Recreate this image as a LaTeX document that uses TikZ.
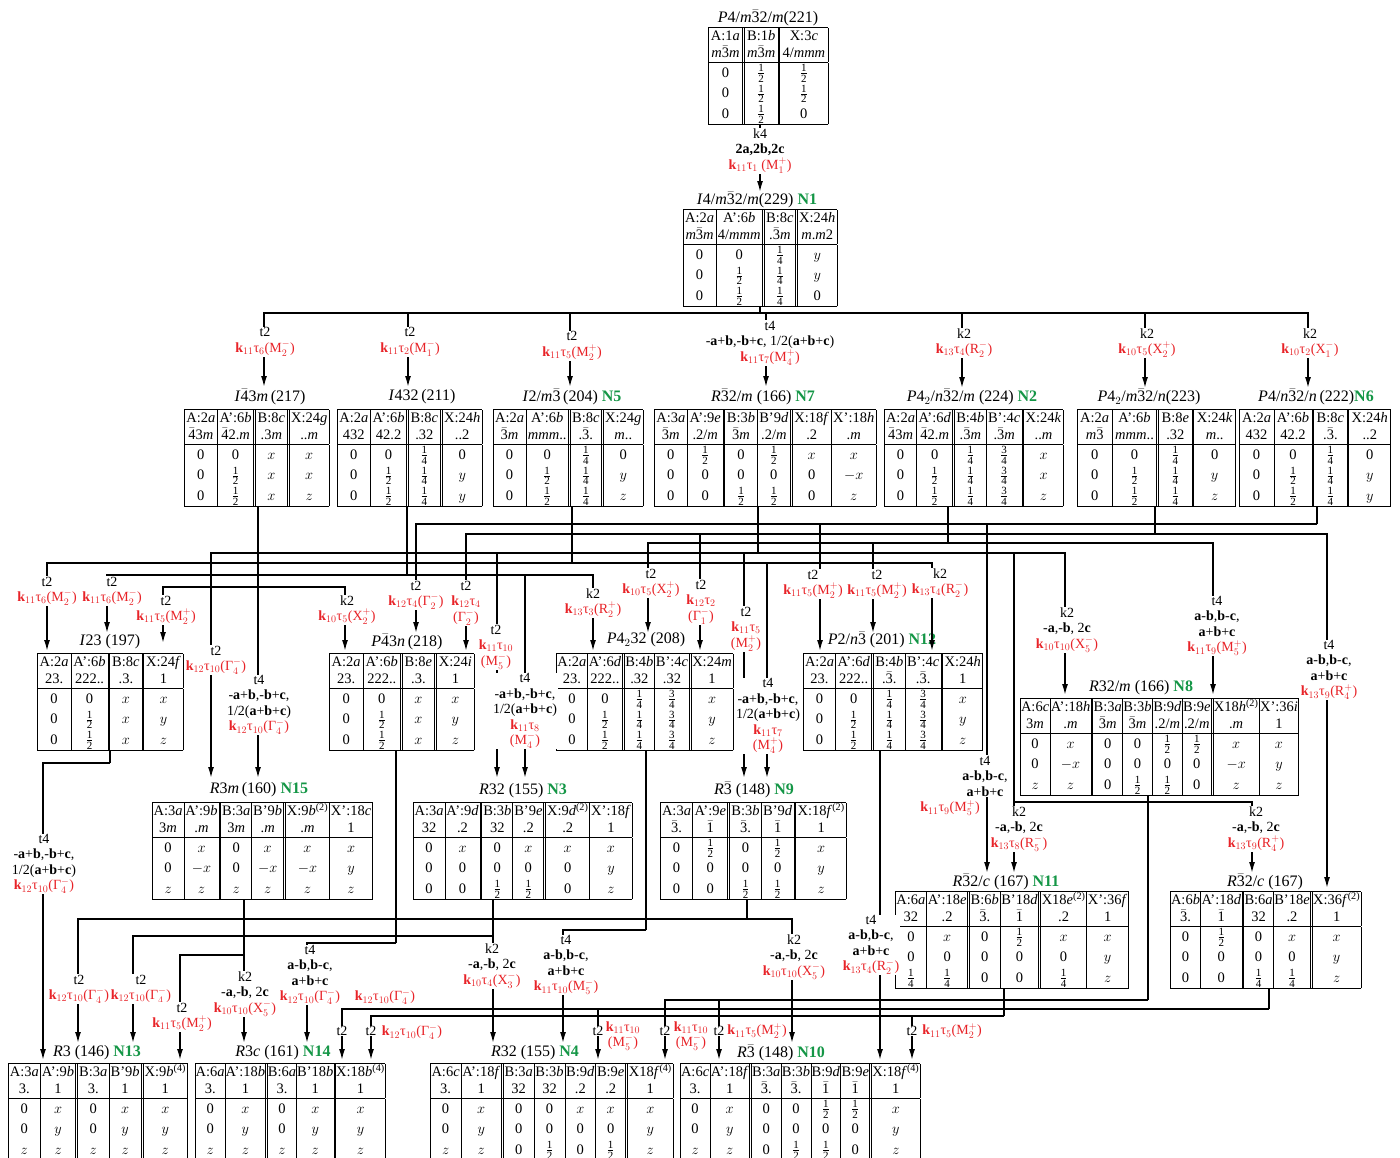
\documentclass[tikz,border=0pt]{standalone}
\usepackage{amsmath}
\usepackage{fontspec}
\setmainfont{Liberation Serif}
\usepackage{xcolor}
\usetikzlibrary{arrows.meta}

\definecolor{lred}{RGB}{232,35,40}
\definecolor{ngreen}{RGB}{20,150,70}

\setlength\arrayrulewidth{0.8pt}
\setlength\doublerulesep{1.8pt}
\setlength\tabcolsep{2pt}
\renewcommand\arraystretch{0.8}

\newcommand\tabfont{\fontsize{14.5}{15}\selectfont}
\newcommand\ttlfont{\fontsize{16}{18}\selectfont}
\newcommand\lbfont{\fontsize{14}{15.5}\selectfont}
\newcommand\brr[1]{$\bar{\text{#1}}$}
\newcommand\itm{\textit{m}}
\newcommand\wi[1]{\textit{#1}}
\newcommand\fd[1]{\text{\fontsize{11}{11}\selectfont #1}}
\newcommand\fr[2]{$\genfrac{}{}{0.5pt}{1}{\fd{#1}}{\fd{#2}}$}
\newcommand\hf{\fr{1}{2}}
\newcommand\qf{\fr{1}{4}}
\newcommand\tqf{\fr{3}{4}}
\newcommand\hs{\rule[-4.5pt]{0pt}{17pt}}
\newcommand\ds{\rule[-6pt]{0pt}{20.5pt}}
\newcommand\cs[1]{\setlength\tabcolsep{#1pt}}
\newcommand\kt[2]{\textbf{k}$_{#1}$τ$_{#2}$}
\newcommand\ir[3]{(#1$_{#2}^{#3}$)}
\newcommand\grn[1]{\textcolor{ngreen}{\textbf{#1}}}
\newcommand\rd[1]{\textcolor{lred}{#1}}
\newcommand\bv[1]{\textbf{#1}}
\newcommand\vA{-\bv{a}+\bv{b},-\bv{b}+\bv{c},}
\newcommand\vB{1/2(\bv{a}+\bv{b}+\bv{c})}
\newcommand\vC{\bv{a}-\bv{b},\bv{b}-\bv{c},}
\newcommand\vD{\bv{a}+\bv{b}+\bv{c}}
\newcommand\vE{-\bv{a},-\bv{b}, 2\bv{c}}

\begin{document}
\begin{tikzpicture}[x=1pt,y=-1pt,
  wt/.style={anchor=north west,inner sep=0pt,font=\tabfont},
  ttl/.style={inner sep=0pt,font=\ttlfont},
  lb/.style={align=center,fill=white,inner sep=0.6pt,font=\lbfont},
  wire/.style={line width=1.5pt},
  arr/.style={wire,-{Latex[length=11pt,width=6pt]}}
]
\useasboundingbox (0,0) rectangle (1400,1157);
\clip (0,0) rectangle (1400,1157);

% ---- level 0 and 1
\node[ttl] (H221) at (768,18) {\textit{P}4/\itm\brr{3}2/\itm(221)};
\node[wt] (T221) at (708,27) {\cs{2.7}\begin{tabular}{|c||c||c|}\hline
\hs A:1\wi{a} & B:1\wi{b} & X:3\wi{c}\\
\hs \itm\brr{3}\itm & \itm\brr{3}\itm & 4/\itm\itm\itm\\\hline
\ds 0 & \hf & \hf\\
\ds 0 & \hf & \hf\\
\ds 0 & \hf & 0\\\hline
\end{tabular}};

\node[ttl] (H229) at (757,200) {\textit{I}4/\itm\brr{3}2/\itm(229) \grn{N1}};
\node[wt] (T229) at (683,209) {\cs{1.9}\begin{tabular}{|c|c||c||c|}\hline
\hs A:2\wi{a} & A':6\wi{b} & B:8\wi{c} & X:24\wi{h}\\
\hs \itm\brr{3}\itm & 4/\itm\itm\itm & .\brr{3}\itm & \itm.\itm2\\\hline
\ds 0 & 0 & \qf & $y$\\
\ds 0 & \hf & \qf & $y$\\
\ds 0 & \hf & \qf & 0\\\hline
\end{tabular}};

% ---- level 2
\node[ttl] (H217) at (270,397) {\textit{I}\brr{4}3\itm\,(217)};
\node[wt] (T217) at (184,409) {\cs{2.1}\begin{tabular}{|c|c||c||c|}\hline
\hs A:2\wi{a} & A':6\wi{b} & B:8\wi{c} & X:24\wi{g}\\
\hs \brr{4}3\itm & \brr{4}2.\itm & .3\itm & ..\itm\\\hline
\ds 0 & 0 & $x$ & $x$\\
\ds 0 & \hf & $x$ & $x$\\
\ds 0 & \hf & $x$ & $z$\\\hline
\end{tabular}};

\node[ttl] (H211) at (422,397) {\textit{I}432\,(211)};
\node[wt] (T211) at (337,409) {\cs{2.1}\begin{tabular}{|c|c||c||c|}\hline
\hs A:2\wi{a} & A':6\wi{b} & B:8\wi{c} & X:24\wi{h}\\
\hs 432 & 42.2 & .32 & ..2\\\hline
\ds 0 & 0 & \qf & 0\\
\ds 0 & \hf & \qf & $y$\\
\ds 0 & \hf & \qf & $y$\\\hline
\end{tabular}};

\node[ttl] (H204) at (572,397) {\textit{I}2/\itm\brr{3}\,(204) \grn{N5}};
\node[wt] (T204) at (493,409) {\cs{1.9}\begin{tabular}{|c|c||c||c|}\hline
\hs A:2\wi{a} & A':6\wi{b} & B:8\wi{c} & X:24\wi{g}\\
\hs \brr{3}\itm & \itm\itm\itm.. & .\brr{3}. & \itm..\\\hline
\ds 0 & 0 & \qf & 0\\
\ds 0 & \hf & \qf & $y$\\
\ds 0 & \hf & \qf & $z$\\\hline
\end{tabular}};

\node[ttl] (H166) at (763,397) {\textit{R}\brr{3}2/\itm{} (166) \grn{N7}};
\node[wt] (T166) at (654,409) {\cs{2.1}\begin{tabular}{|c|c||c|c||c|c|}\hline
\hs A:3\wi{a} & A':9\wi{e} & B:3\wi{b} & B'9\wi{d} & X:18\wi{f} & X':18\wi{h}\\
\hs \brr{3}\itm & .2/\itm & \brr{3}\itm & .2/\itm & .2 & .\itm\\\hline
\ds 0 & \hf & 0 & \hf & $x$ & $x$\\
\ds 0 & 0 & 0 & 0 & 0 & $-x$\\
\ds 0 & 0 & \hf & \hf & 0 & $z$\\\hline
\end{tabular}};

\node[ttl] (H224) at (972,397) {\textit{P}4$_2$/\textit{n}\brr{3}2/\itm{} (224) \grn{N2}};
\node[wt] (T224) at (884,409) {\cs{1.8}\begin{tabular}{|c|c||c|c||c|}\hline
\hs A:2\wi{a} & A':6\wi{d} & B:4\wi{b} & B':4\wi{c} & X:24\wi{k}\\
\hs \brr{4}3\itm & \brr{4}2.\itm & .\brr{3}\itm & .\brr{3}\itm & ..\itm\\\hline
\ds 0 & 0 & \qf & \tqf & $x$\\
\ds 0 & \hf & \qf & \tqf & $x$\\
\ds 0 & \hf & \qf & \tqf & $z$\\\hline
\end{tabular}};

\node[ttl] (H223) at (1149,397) {\textit{P}4$_2$/\itm\brr{3}2/\textit{n}(223)};
\node[wt] (T223) at (1077,409) {\cs{3}\begin{tabular}{|c|c||c||c|}\hline
\hs A:2\wi{a} & A':6\wi{b} & B:8\wi{e} & X:24\wi{k}\\
\hs \itm\brr{3} & \itm\itm\itm.. & .32 & \itm..\\\hline
\ds 0 & 0 & \qf & 0\\
\ds 0 & \hf & \qf & $y$\\
\ds 0 & \hf & \qf & $z$\\\hline
\end{tabular}};

\node[ttl] (H222) at (1316,397) {\textit{P}4/\textit{n}\brr{3}2/\textit{n}\,(222)\grn{N6}};
\node[wt] (T222) at (1239,409) {\cs{2.9}\begin{tabular}{|c|c||c||c|}\hline
\hs A:2\wi{a} & A':6\wi{b} & B:8\wi{c} & X:24\wi{h}\\
\hs 432 & 42.2 & .\brr{3}. & ..2\\\hline
\ds 0 & 0 & \qf & 0\\
\ds 0 & \hf & \qf & $y$\\
\ds 0 & \hf & \qf & $y$\\\hline
\end{tabular}};

% ---- level 3
\node[ttl] (H197) at (110,642) {\textit{I}23 (197)};
\node[wt] (T197) at (37,653) {\cs{2.4}\begin{tabular}{|c|c||c||c|}\hline
\hs A:2\wi{a} & A':6\wi{b} & B:8\wi{c} & X:24\wi{f}\\
\hs 23. & 222.. & .3. & 1\\\hline
\ds 0 & 0 & $x$ & $x$\\
\ds 0 & \hf & $x$ & $y$\\
\ds 0 & \hf & $x$ & $z$\\\hline
\end{tabular}};

\node[ttl] (H218) at (407,642) {\textit{P}\brr{4}3\textit{n}\,(218)};
\node[wt] (T218) at (329,653) {\cs{2.5}\begin{tabular}{|c|c||c||c|}\hline
\hs A:2\wi{a} & A':6\wi{b} & B:8\wi{e} & X:24\wi{i}\\
\hs 23. & 222.. & .3. & 1\\\hline
\ds 0 & 0 & $x$ & $x$\\
\ds 0 & \hf & $x$ & $y$\\
\ds 0 & \hf & $x$ & $z$\\\hline
\end{tabular}};

\node[ttl] (H208) at (646,640) {\textit{P}4$_2$32 (208)};
\node[wt] (T208) at (556,653) {\cs{1.2}\begin{tabular}{|c|c||c|c||c|}\hline
\hs A:2\wi{a} & A':6\wi{d} & B:4\wi{b} & B':4\wi{c} & X:24\wi{m}\\
\hs 23. & 222.. & .32 & .32 & 1\\\hline
\ds 0 & 0 & \qf & \tqf & $x$\\
\ds 0 & \hf & \qf & \tqf & $y$\\
\ds 0 & \hf & \qf & \tqf & $z$\\\hline
\end{tabular}};

\node[ttl] (H201) at (882,640) {\textit{P}2/\textit{n}\brr{3} (201) \grn{N12}};
\node[wt] (T201) at (803,653) {\cs{1.8}\begin{tabular}{|c|c||c|c||c|}\hline
\hs A:2\wi{a} & A':6\wi{d} & B:4\wi{b} & B':4\wi{c} & X:24\wi{h}\\
\hs 23. & 222.. & .\brr{3}. & .\brr{3}. & 1\\\hline
\ds 0 & 0 & \qf & \tqf & $x$\\
\ds 0 & \hf & \qf & \tqf & $y$\\
\ds 0 & \hf & \qf & \tqf & $z$\\\hline
\end{tabular}};

\node[ttl] (H166b) at (1141,688) {\textit{R}32/\itm{} (166) \grn{N8}};
\node[wt] (T166b) at (1020,698) {\cs{0.8}\begin{tabular}{|c|c||c|c|c|c||c|c|}\hline
\hs A:6\wi{c} & A':18\wi{h} & B:3\wi{a} & B:3\wi{b} & B:9\wi{d} & B:9\wi{e} & X18\wi{h}\textsuperscript{(2)} & X':36\wi{i}\\
\hs 3\itm & .\itm & \brr{3}\itm & \brr{3}\itm & .2/\itm & .2/\itm & .\itm & 1\\\hline
\ds 0 & $x$ & 0 & 0 & \hf & \hf & $x$ & $x$\\
\ds 0 & $-x$ & 0 & 0 & 0 & 0 & $-x$ & $y$\\
\ds $z$ & $z$ & 0 & \hf & \hf & 0 & $z$ & $z$\\\hline
\end{tabular}};

% ---- level 4
\node[ttl] (H160) at (259,790) {\textit{R}3\itm\,(160) \grn{N15}};
\node[wt] (T160) at (152,802) {\cs{1.4}\begin{tabular}{|c|c||c|c||c|c|}\hline
\hs A:3\wi{a} & A':9\wi{b} & B:3\wi{a} & B'9\wi{b} & X:9\wi{b}\textsuperscript{(2)} & X':18\wi{c}\\
\hs 3\itm & .\itm & 3\itm & .\itm & .\itm & 1\\\hline
\ds 0 & $x$ & 0 & $x$ & $x$ & $x$\\
\ds 0 & $-x$ & 0 & $-x$ & $-x$ & $y$\\
\ds $z$ & $z$ & $z$ & $z$ & $z$ & $z$\\\hline
\end{tabular}};

\node[ttl] (H155) at (523,791) {\textit{R}32 (155) \grn{N3}};
\node[wt] (T155) at (413,802) {\cs{1.4}\begin{tabular}{|c|c||c|c||c|c|}\hline
\hs A:3\wi{a} & A':9\wi{d} & B:3\wi{b} & B'9\wi{e} & X:9\wi{d}\textsuperscript{(2)} & X':18\wi{f}\\
\hs 32 & .2 & 32 & .2 & .2 & 1\\\hline
\ds 0 & $x$ & 0 & $x$ & $x$ & $x$\\
\ds 0 & 0 & 0 & 0 & 0 & $y$\\
\ds 0 & 0 & \hf & \hf & 0 & $z$\\\hline
\end{tabular}};

\node[ttl] (H148) at (754,790) {\textit{R}\brr{3} (148) \grn{N9}};
\node[wt] (T148) at (660,802) {\cs{1.8}\begin{tabular}{|c|c||c|c||c|}\hline
\hs A:3\wi{a} & A':9\wi{e} & B:3\wi{b} & B'9\wi{d} & X:18\wi{f}\textsuperscript{(2)}\\
\hs \brr{3}. & \brr{1} & \brr{3}. & \brr{1} & 1\\\hline
\ds 0 & \hf & 0 & \hf & $x$\\
\ds 0 & 0 & 0 & 0 & $y$\\
\ds 0 & 0 & \hf & \hf & $z$\\\hline
\end{tabular}};

% ---- level 5
\node[ttl] (H167) at (1006,882) {\textit{R}\brr{3}2/\textit{c} (167) \grn{N11}};
\node[wt] (T167) at (895,891) {\cs{1.2}\begin{tabular}{|c|c||c|c||c|c|}\hline
\hs A:6\wi{a} & A':18\wi{e} & B:6\wi{b} & B'18\wi{d} & X18\wi{e}\textsuperscript{(2)} & X':36\wi{f}\\
\hs 32 & .2 & \brr{3}. & \brr{1} & .2 & 1\\\hline
\ds 0 & $x$ & 0 & \hf & $x$ & $x$\\
\ds 0 & 0 & 0 & 0 & 0 & $y$\\
\ds \qf & \qf & 0 & 0 & \qf & $z$\\\hline
\end{tabular}};

\node[ttl] (H167b) at (1265,882) {\textit{R}\brr{3}2/\textit{c} (167)};
\node[wt] (T167b) at (1170,891) {\cs{0.8}\begin{tabular}{|c|c||c|c||c|}\hline
\hs A:6\wi{b} & A':18\wi{d} & B:6\wi{a} & B'18\wi{e} & X:36\wi{f}\textsuperscript{(2)}\\
\hs \brr{3}. & \brr{1} & 32 & .2 & 1\\\hline
\ds 0 & \hf & 0 & $x$ & $x$\\
\ds 0 & 0 & 0 & 0 & $y$\\
\ds 0 & 0 & \qf & \qf & $z$\\\hline
\end{tabular}};

% ---- level 6
\node[ttl] (H146) at (97,1053) {\textit{R}3 (146) \grn{N13}};
\node[wt] (T146) at (8,1063) {\cs{1.6}\begin{tabular}{|c|c||c|c||c|}\hline
\hs A:3\wi{a} & A':9\wi{b} & B:3\wi{a} & B'9\wi{b} & X:9\wi{b}\textsuperscript{(4)}\\
\hs 3. & 1 & 3. & 1 & 1\\\hline
\ds 0 & $x$ & 0 & $x$ & $x$\\
\ds 0 & $y$ & 0 & $y$ & $y$\\
\ds $z$ & $z$ & $z$ & $z$ & $z$\\\hline
\end{tabular}};

\node[ttl] (H161) at (283,1053) {\textit{R}3\textit{c} (161) \grn{N14}};
\node[wt] (T161) at (195,1063) {\cs{0.5}\begin{tabular}{|c|c||c|c||c|}\hline
\hs A:6\wi{a} & A':18\wi{b} & B:6\wi{a} & B'18\wi{b} & X:18\wi{b}\textsuperscript{(4)}\\
\hs 3. & 1 & 3. & 1 & 1\\\hline
\ds 0 & $x$ & 0 & $x$ & $x$\\
\ds 0 & $y$ & 0 & $y$ & $y$\\
\ds $z$ & $z$ & $z$ & $z$ & $z$\\\hline
\end{tabular}};

\node[ttl] (H155b) at (535,1053) {\textit{R}32 (155) \grn{N4}};
\node[wt] (T155b) at (430,1063) {\cs{1.3}\begin{tabular}{|c|c||c|c|c|c||c|}\hline
\hs A:6\wi{c} & A':18\wi{f} & B:3\wi{a} & B:3\wi{b} & B:9\wi{d} & B:9\wi{e} & X18\wi{f}\textsuperscript{(4)}\\
\hs 3. & 1 & 32 & 32 & .2 & .2 & 1\\\hline
\ds 0 & $x$ & 0 & 0 & $x$ & $x$ & $x$\\
\ds 0 & $y$ & 0 & 0 & 0 & 0 & $y$\\
\ds $z$ & $z$ & 0 & \hf & 0 & \hf & $z$\\\hline
\end{tabular}};

\node[ttl] (H148b) at (781,1053) {\textit{R}\brr{3} (148) \grn{N10}};
\node[wt] (T148b) at (680,1063) {\cs{0.8}\begin{tabular}{|c|c||c|c|c|c||c|}\hline
\hs A:6\wi{c} & A':18\wi{f} & B:3\wi{a} & B:3\wi{b} & B:9\wi{d} & B:9\wi{e} & X:18\wi{f}\textsuperscript{(4)}\\
\hs 3. & 1 & \brr{3}. & \brr{3}. & \brr{1} & \brr{1} & 1\\\hline
\ds 0 & $x$ & 0 & 0 & \hf & \hf & $x$\\
\ds 0 & $y$ & 0 & 0 & 0 & 0 & $y$\\
\ds $z$ & $z$ & 0 & \hf & \hf & 0 & $z$\\\hline
\end{tabular}};

% ---- junctions and arrow tips
\foreach \n/\x/\y in {j229/760/313, j217/258/587, j211/407/575, j204/572/563,
  j166/758/553, j224/948/543, j223/1155/534, j222/1317/524, j802/1014/802,
  j197/110/763, j218/396/943, j208/646/930, j160/244/955, j155/493/936,
  j148/747/919, j166b/1148/1000, j167/1004/1016, j167b/1269/1009}
  \coordinate (\n) at (\x,\y);
\foreach \n/\x/\y in {a229/760/192, a217/264/387, a211/408/387, a204/570/387,
  a166/766/387, a224/962/388, a223/1145/388, a222/1308/388,
  a197a/47/651, a197b/107/633, a197c/163/643,
  a218a/345/651, a218b/416/633, a218c/466/651,
  a208a/593/651, a208b/648/633, a208c/700/651,
  a201a/820/651, a201b/873/633, a201c/932/651,
  a166ba/1065/695, a166bb/1213/695,
  a167ba/1252/873, a167bb/1327/888, a167a/987/873, a167b/1014/873,
  a160a/211/778, a160b/258/778, a155a/497/778, a155b/525/778,
  a148a/744/778, a148b/767/778,
  a146a/43/1060, a146b/78/1043, a146c/133/1043, a146d/180/1060,
  a161a/244/1043, a161b/307/1043, a161c/342/1060, a161d/371/1060,
  a155ba/493/1043, a155bb/563/1043, a155bc/598/1060, a155bd/665/1060,
  a148ba/719/1060, a148bb/792/1043, a148bc/880/1060, a148bd/912/1060}
  \coordinate (\n) at (\x,\y);

% ---- connectors
\draw[arr] (T221.south -| a229) -- (a229);
\draw[wire] (T229.south -| j229) -- (j229);
\foreach \n in {a217,a211,a204,a166,a224,a223,a222} \draw[arr] (j229) -| (\n);

\draw[wire] (T217.south -| j217) -- (j217);
\draw[arr] (j217) -- (a160b);
\foreach \n in {a197c,a218a} \draw[arr] (j217) -| (\n);
\draw[wire] (T211.south -| j211) -- (j211);
\foreach \n in {a197b,a155b,a208a} \draw[arr] (j211) -| (\n);
\draw[wire] (T204.south -| j204) -- (j204);
\foreach \n in {a197a,a148b,a201c} \draw[arr] (j204) -| (\n);
\draw[wire] (T166.south -| j166) -- (j166);
\foreach \n in {a160a,a155a,a148a,a167b,a166ba} \draw[arr] (j166) -| (\n);
\draw[arr] (j802) -| (a167ba);
\draw[wire] (T224.south -| j224) -- (j224);
\foreach \n in {a208b,a201b,a166bb} \draw[arr] (j224) -| (\n);
\draw[wire] (T223.south -| j223) -- (j223);
\foreach \n in {a218c,a208c,a167bb} \draw[arr] (j223) -| (\n);
\draw[wire] (T222.south -| j222) -- (j222);
\foreach \n in {a218b,a201a,a167a} \draw[arr] (j222) -| (\n);

\draw[wire] (T197.south -| j197) -- (j197);
\draw[arr] (j197) -| (a146a);
\draw[wire] (T218.south -| j218) -- (j218);
\draw[arr] (j218) -| (a161b);
\draw[wire] (T208.south -| j208) -- (j208);
\draw[arr] (j208) -| (a155bb);
\draw[arr] (T201.south -| a148bc) -- (a148bc);
\draw[wire] (T166b.south -| j166b) -- (j166b);
\foreach \n in {a155bd,a148ba} \draw[arr] (j166b) -| (\n);
\draw[wire] (T160.south -| j160) -- (j160);
\draw[arr] (j160) -- (a161a);
\draw[arr] (j160) -| (a146d);
\draw[wire] (T155.south -| j155) -- (j155);
\draw[arr] (j155) -- (a155ba);
\draw[arr] (j155) -| (a146c);
\draw[wire] (T148.south -| j148) -- (j148);
\foreach \n in {a146b,a148bb} \draw[arr] (j148) -| (\n);
\draw[wire] (T167.south -| j167) -- (j167);
\foreach \n in {a161d,a148bd} \draw[arr] (j167) -| (\n);
\draw[wire] (T167b.south -| j167b) -- (j167b);
\foreach \n in {a161c,a155bc} \draw[arr] (j167b) -| (\n);

% ---- labels on the connectors
\node[lb] (L229) at (760,151) {k4\\\bv{2a,2b,2c}\\\rd{\kt{11}{1} \ir{M}{1}{+}}};
\node[lb] (L217) at (265,342) {t2\\\rd{\kt{11}{6}\ir{M}{2}{-}}};
\node[lb] (L211) at (410,342) {t2\\\rd{\kt{11}{2}\ir{M}{1}{-}}};
\node[lb] (L204) at (572,346) {t2\\\rd{\kt{11}{5}\ir{M}{2}{+}}};
\node[lb] (L166) at (770,343) {t4\\\vA{} \vB\\\rd{\kt{11}{7}\ir{M}{4}{+}}};
\node[lb] (L224) at (964,343) {k2\\\rd{\kt{13}{4}\ir{R}{2}{-}}};
\node[lb] (L223) at (1147,343) {k2\\\rd{\kt{10}{5}\ir{X}{2}{+}}};
\node[lb] (L222) at (1310,343) {k2\\\rd{\kt{10}{2}\ir{X}{1}{-}}};

\node[lb] (L197a) at (47,591) {t2\\\rd{\kt{11}{6}\ir{M}{2}{-}}};
\node[lb] (L197c) at (166,610) {t2\\\rd{\kt{11}{5}\ir{M}{2}{+}}};
\node[lb] (L197b) at (112,591) {t2\\\rd{\kt{11}{6}\ir{M}{2}{-}}};
\node[lb] (L218a) at (347,610) {k2\\\rd{\kt{10}{5}\ir{X}{2}{+}}};
\node[lb] (L218b) at (416,595) {t2\\\rd{\kt{12}{4}\ir{Γ}{2}{-}}};
\node[lb] (L218c) at (466,603) {t2\\\rd{\kt{12}{4}}\\\rd{\ir{Γ}{2}{-}}};
\node[lb] (L208a) at (593,603) {k2\\\rd{\kt{13}{3}\ir{R}{2}{+}}};
\node[lb] (L208b) at (651,583) {t2\\\rd{\kt{10}{5}\ir{X}{2}{+}}};
\node[lb] (L208c) at (701,602) {t2\\\rd{\kt{12}{2}}\\\rd{\ir{Γ}{1}{-}}};
\node[lb] (L201a) at (813,584) {t2\\\rd{\kt{11}{5}\ir{M}{2}{+}}};
\node[lb] (L201b) at (877,584) {t2\\\rd{\kt{11}{5}\ir{M}{2}{+}}};
\node[lb] (L201c) at (940,583) {k2\\\rd{\kt{13}{4}\ir{R}{2}{-}}};
\node[lb] (L166ba) at (1067,630) {k2\\\vE\\\rd{\kt{10}{10}\ir{X}{5}{-}}};
\node[lb] (L166bb) at (1217,626) {t4\\\vC\\\vD\\\rd{\kt{11}{9}\ir{M}{5}{+}}};
\node[lb] (L167bb) at (1329,670) {t4\\\vC\\\vD\\\rd{\kt{13}{9}\ir{R}{4}{+}}};

\node[lb] (L160a) at (216,660) {t2\\\rd{\kt{12}{10}\ir{Γ}{4}{-}}};
\node[lb] (L160b) at (259,705) {t4\\\vA\\\vB\\\rd{\kt{12}{10}\ir{Γ}{4}{-}}};
\node[lb] (L155a) at (496,647) {t2\\\rd{\kt{11}{10}}\\\rd{\ir{M}{5}{-}}};
\node[lb] (L155b) at (525,711) {t4\\\vA\\\vB\\\rd{\kt{11}{8}}\\\rd{\ir{M}{4}{-}}};
\node[lb] (L148a) at (746,629) {t2\\\rd{\kt{11}{5}}\\\rd{\ir{M}{2}{+}}};
\node[lb] (L148b) at (768,716) {t4\\\vA\\\vB\\\rd{\kt{11}{7}}\\\rd{\ir{M}{4}{+}}};

\node[lb] (L167a) at (985,776) {t4\\\vC\\\vD};
\node[lb] (L167ar) at (950,808) {\rd{\kt{11}{9}\ir{M}{5}{+}}};
\node[lb] (L167b) at (1019,829) {k2\\\vE\\\rd{\kt{13}{8}\ir{R}{5}{-}}};
\node[lb] (L167ba) at (1256,829) {k2\\\vE\\\rd{\kt{13}{9}\ir{R}{4}{+}}};

\node[lb] (L146a) at (44,864) {t4\\\vA\\\vB\\\rd{\kt{12}{10}\ir{Γ}{4}{-}}};
\node[lb] (L146b) at (79,989) {t2\\\rd{\kt{12}{10}\ir{Γ}{4}{-}}};
\node[lb] (L146c) at (141,989) {t2\\\rd{\kt{12}{10}\ir{Γ}{4}{-}}};
\node[lb] (L146d) at (182,1017) {t2\\\rd{\kt{11}{5}\ir{M}{2}{+}}};
\node[lb] (L161a) at (245,994) {k2\\\vE\\\rd{\kt{10}{10}\ir{X}{5}{-}}};
\node[lb] (L161b) at (310,975) {t4\\\vC\\\vD\\\rd{\kt{12}{10}\ir{Γ}{4}{-}}};
\node[lb] (L161c) at (342,1031) {t2};
\node[lb] (L161cr) at (385,997) {\rd{\kt{12}{10}\ir{Γ}{4}{-}}};
\node[lb] (L161d) at (371,1031) {t2};
\node[lb] (L161dr) at (412,1032) {\rd{\kt{12}{10}\ir{Γ}{4}{-}}};
\node[lb] (L155ba) at (492,966) {k2\\\vE\\\rd{\kt{10}{4}\ir{X}{3}{-}}};
\node[lb] (L155bb) at (566,965) {t4\\\vC\\\vD\\\rd{\kt{11}{10}\ir{M}{5}{-}}};
\node[lb] (L155bc) at (598,1031) {t2};
\node[lb] (L155bcr) at (623,1036) {\rd{\kt{11}{10}}\\\rd{\ir{M}{5}{-}}};
\node[lb] (L155bd) at (665,1031) {t2};
\node[lb] (L155bdr) at (691,1036) {\rd{\kt{11}{10}}\\\rd{\ir{M}{5}{-}}};
\node[lb] (L148ba) at (719,1031) {t2};
\node[lb] (L148bar) at (757,1031) {\rd{\kt{11}{5}\ir{M}{2}{+}}};
\node[lb] (L148bb) at (794,957) {k2\\\vE\\\rd{\kt{10}{10}\ir{X}{5}{-}}};
\node[lb] (L148bc) at (871,945) {t4\\\vC\\\vD\\\rd{\kt{13}{4}\ir{R}{2}{-}}};
\node[lb] (L148bd) at (912,1031) {t2};
\node[lb] (L148bdr) at (952,1031) {\rd{\kt{11}{5}\ir{M}{2}{+}}};
\end{tikzpicture}
\end{document}
